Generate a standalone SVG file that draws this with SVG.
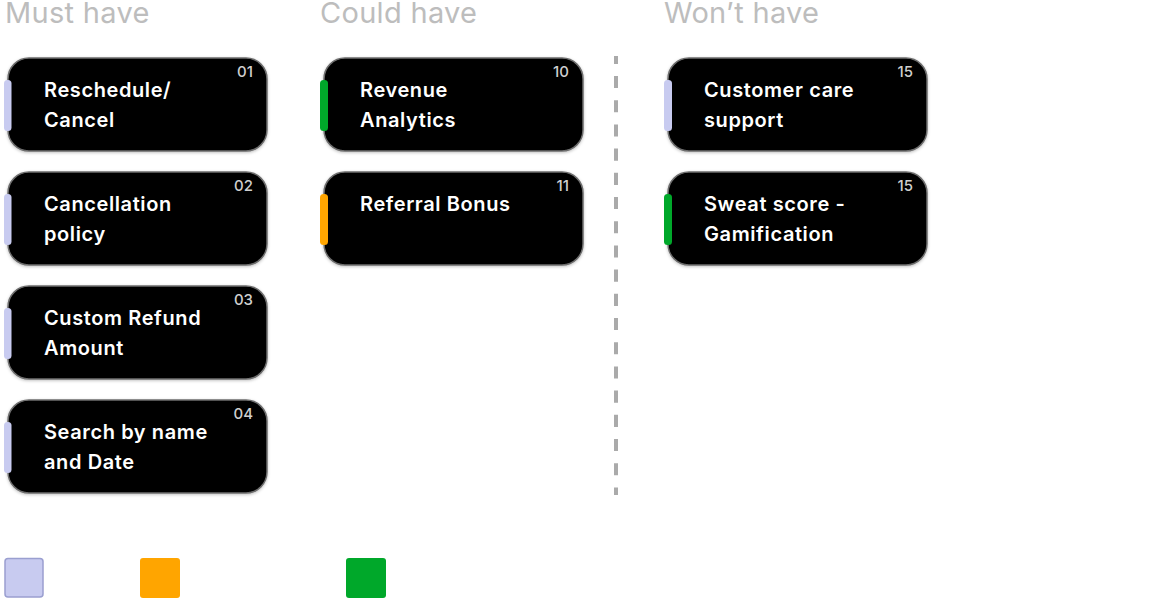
<svg xmlns="http://www.w3.org/2000/svg" width="1154" height="598" viewBox="0 0 1154 598">
<defs>
<filter id="sh" x="-10%" y="-20%" width="120%" height="140%">
<feDropShadow dx="0" dy="1" stdDeviation="1.5" flood-color="#000" flood-opacity="0.25"/>
</filter>
<style>
.hdr{font-family:Inter,"Liberation Sans",sans-serif;font-size:29px;letter-spacing:0.3px;fill:#bdbdbd;font-weight:400}
.card{fill:#000;stroke:#6e6e6e;stroke-width:1.5;filter:url(#sh)}
.t{font-family:Inter,"Liberation Sans",sans-serif;font-size:20px;letter-spacing:0.6px;font-weight:600;fill:#fff}
.n{font-family:Inter,"Liberation Sans",sans-serif;font-size:15px;font-weight:500;fill:#cfcfcf;text-anchor:end}
.blue{fill:#c8cbf0}
.orange{fill:#ffa500}
.green{fill:#00a82a}
</style>
</defs>
<rect width="1154" height="598" fill="#fff"/>
<text class="hdr" x="5" y="23">Must have</text>
<text class="hdr" x="320" y="23">Could have</text>
<text class="hdr" x="664" y="23">Won’t have</text>

<g id="connectors">
<line x1="616" y1="56" x2="616" y2="495" stroke="#aaaaaa" stroke-width="4" stroke-dasharray="12.1 12.1" stroke-dashoffset="4.2"/>
</g>

<g id="n01">
<rect class="card" x="8" y="58" width="259" height="93" rx="21"/>
<rect class="blue" x="4" y="80" width="7.5" height="51" rx="3.5"/>
<text class="t" x="44" y="97">Reschedule/</text>
<text class="t" x="44" y="127">Cancel</text>
<text class="n" x="253" y="77">01</text>
</g>
<g id="n02">
<rect class="card" x="8" y="172" width="259" height="93" rx="21"/>
<rect class="blue" x="4" y="194" width="7.5" height="51" rx="3.5"/>
<text class="t" x="44" y="211">Cancellation</text>
<text class="t" x="44" y="241">policy</text>
<text class="n" x="253" y="191">02</text>
</g>
<g id="n03">
<rect class="card" x="8" y="286" width="259" height="93" rx="21"/>
<rect class="blue" x="4" y="308" width="7.5" height="51" rx="3.5"/>
<text class="t" x="44" y="325">Custom Refund</text>
<text class="t" x="44" y="355">Amount</text>
<text class="n" x="253" y="305">03</text>
</g>
<g id="n04">
<rect class="card" x="8" y="400" width="259" height="93" rx="21"/>
<rect class="blue" x="4" y="422" width="7.5" height="51" rx="3.5"/>
<text class="t" x="44" y="439">Search by name</text>
<text class="t" x="44" y="469">and Date</text>
<text class="n" x="253" y="419">04</text>
</g>
<g id="n10">
<rect class="card" x="324" y="58" width="259" height="93" rx="21"/>
<rect class="green" x="320" y="80" width="8" height="51" rx="3.5"/>
<text class="t" x="360" y="97">Revenue</text>
<text class="t" x="360" y="127">Analytics</text>
<text class="n" x="569" y="77">10</text>
</g>
<g id="n11">
<rect class="card" x="324" y="172" width="259" height="93" rx="21"/>
<rect class="orange" x="320" y="194" width="8" height="51" rx="3.5"/>
<text class="t" x="360" y="211">Referral Bonus</text>
<text class="n" x="569" y="191">11</text>
</g>
<g id="n15a">
<rect class="card" x="668" y="58" width="259" height="93" rx="21"/>
<rect class="blue" x="664" y="80" width="8" height="51" rx="3.5"/>
<text class="t" x="704" y="97">Customer care</text>
<text class="t" x="704" y="127">support</text>
<text class="n" x="913" y="77">15</text>
</g>
<g id="n15b">
<rect class="card" x="668" y="172" width="259" height="93" rx="21"/>
<rect class="green" x="664" y="194" width="8" height="51" rx="3.5"/>
<text class="t" x="704" y="211">Sweat score -</text>
<text class="t" x="704" y="241">Gamification</text>
<text class="n" x="913" y="191">15</text>
</g>

<g id="legend">
<rect x="5" y="558.5" width="38" height="38.5" rx="3" fill="#c8cbf0" stroke="#9a9fd0" stroke-width="1.5"/>
<rect x="140" y="558" width="40" height="40" rx="3" fill="#ffa500"/>
<rect x="346" y="558" width="40" height="40" rx="3" fill="#00a82a"/>
</g>
</svg>
